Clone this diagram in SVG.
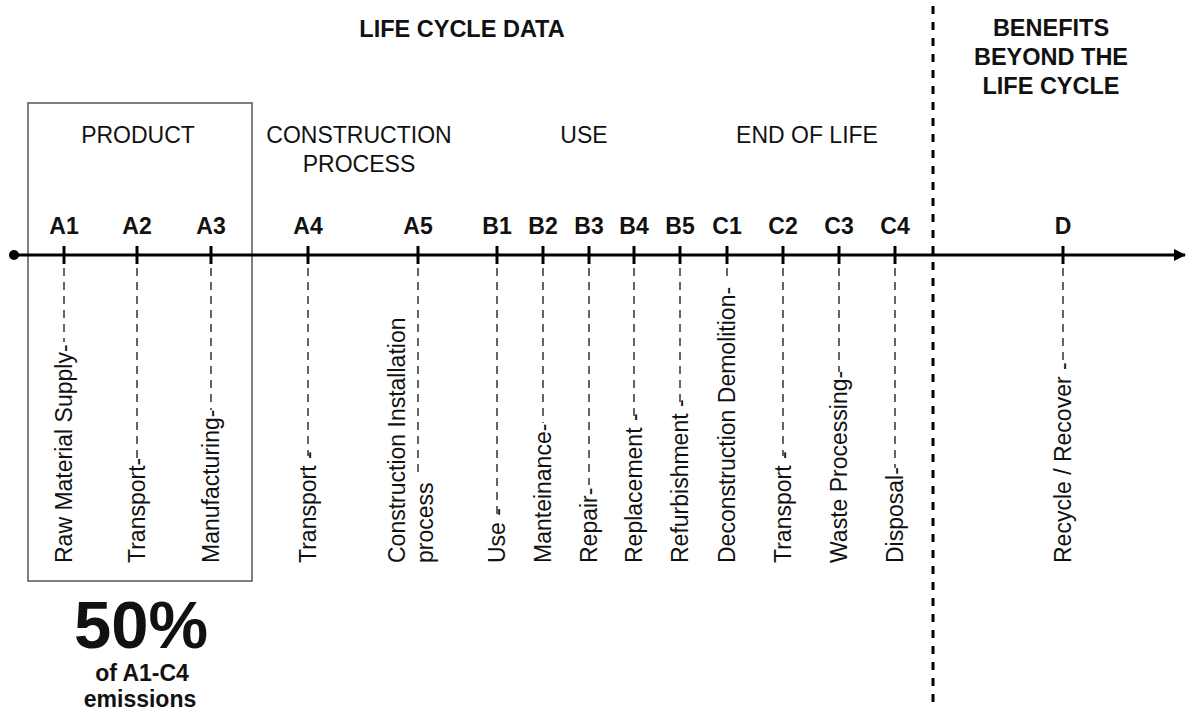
<svg xmlns="http://www.w3.org/2000/svg" width="1187" height="710" viewBox="0 0 1187 710">
<style>
text{font-family:"Liberation Sans",Arial,sans-serif;fill:#111}
.h{font-size:23.5px;font-weight:bold;text-anchor:middle}
.s{font-size:23px;text-anchor:middle}
.t{font-size:23px;font-weight:bold;text-anchor:middle}
.r{font-size:23px;text-anchor:start}
.d{stroke:#333;stroke-width:1.5;stroke-dasharray:8 6;fill:none}
.k{stroke:#000;stroke-width:3}
</style>
<defs>
<marker id="arr" markerWidth="12" markerHeight="12" refX="11" refY="6" orient="auto" markerUnits="userSpaceOnUse">
<path d="M0,0 L12,6 L0,12 Z" fill="#000"/>
</marker>
</defs>
<rect width="1187" height="710" fill="#fff"/>
<g id="headers">
<text class="h" x="462" y="37">LIFE CYCLE DATA</text>
<text class="h" x="1051" y="36">BENEFITS</text>
<text class="h" x="1051" y="65">BEYOND THE</text>
<text class="h" x="1051" y="94">LIFE CYCLE</text>
<text class="s" x="138" y="143">PRODUCT</text>
<text class="s" x="359" y="143">CONSTRUCTION</text>
<text class="s" x="359" y="172">PROCESS</text>
<text class="s" x="584" y="143">USE</text>
<text class="s" x="807" y="143">END OF LIFE</text>
</g>
<g id="product-box">
<rect x="28" y="103" width="224" height="478" fill="none" stroke="#555" stroke-width="1.5"/>
</g>
<g id="separator">
<line x1="933" y1="6" x2="933" y2="710" stroke="#000" stroke-width="3" stroke-dasharray="8 8"/>
</g>
<g id="connectors">
<line x1="14" y1="255" x2="1185" y2="255" class="k" marker-end="url(#arr)"/>
<circle cx="14" cy="255" r="5" fill="#000"/>
<g class="k">
<line x1="64" y1="246" x2="64" y2="264"/>
<line x1="137" y1="246" x2="137" y2="264"/>
<line x1="211" y1="246" x2="211" y2="264"/>
<line x1="308" y1="246" x2="308" y2="264"/>
<line x1="418" y1="246" x2="418" y2="264"/>
<line x1="497" y1="246" x2="497" y2="264"/>
<line x1="543" y1="246" x2="543" y2="264"/>
<line x1="589" y1="246" x2="589" y2="264"/>
<line x1="634" y1="246" x2="634" y2="264"/>
<line x1="680" y1="246" x2="680" y2="264"/>
<line x1="727" y1="246" x2="727" y2="264"/>
<line x1="783" y1="246" x2="783" y2="264"/>
<line x1="839" y1="246" x2="839" y2="264"/>
<line x1="895" y1="246" x2="895" y2="264"/>
<line x1="1063" y1="246" x2="1063" y2="264"/>
</g>
<g class="d">
<line x1="64" y1="268" x2="64" y2="342"/>
<line x1="137" y1="268" x2="137" y2="458"/>
<line x1="211" y1="268" x2="211" y2="410"/>
<line x1="308" y1="268" x2="308" y2="456"/>
<line x1="418" y1="268" x2="418" y2="476"/>
<line x1="497" y1="268" x2="497" y2="515"/>
<line x1="543" y1="268" x2="543" y2="423"/>
<line x1="589" y1="268" x2="589" y2="485"/>
<line x1="634" y1="268" x2="634" y2="418"/>
<line x1="680" y1="268" x2="680" y2="403"/>
<line x1="727" y1="268" x2="727" y2="281"/>
<line x1="783" y1="268" x2="783" y2="456"/>
<line x1="839" y1="268" x2="839" y2="372"/>
<line x1="895" y1="268" x2="895" y2="468"/>
<line x1="1063" y1="268" x2="1063" y2="365"/>
</g>
</g>
<g id="A1"><text class="t" x="64" y="234">A1</text><text class="r" transform="translate(72,563) rotate(-90)">Raw Material Supply-</text></g>
<g id="A2"><text class="t" x="137" y="234">A2</text><text class="r" transform="translate(145,563) rotate(-90)">Transport-</text></g>
<g id="A3"><text class="t" x="211" y="234">A3</text><text class="r" transform="translate(219,563) rotate(-90)">Manufacturing-</text></g>
<g id="A4"><text class="t" x="308" y="234">A4</text><text class="r" transform="translate(316,563) rotate(-90)">Transport -</text></g>
<g id="A5"><text class="t" x="418" y="234">A5</text><text class="r" transform="translate(405,563) rotate(-90)">Construction Installation</text><text class="r" transform="translate(433,563) rotate(-90)">process</text></g>
<g id="B1"><text class="t" x="497" y="234">B1</text><text class="r" transform="translate(505,563) rotate(-90)">Use -</text></g>
<g id="B2"><text class="t" x="543" y="234">B2</text><text class="r" transform="translate(551,563) rotate(-90)">Manteinance-</text></g>
<g id="B3"><text class="t" x="589" y="234">B3</text><text class="r" transform="translate(597,563) rotate(-90)">Repair-</text></g>
<g id="B4"><text class="t" x="634" y="234">B4</text><text class="r" transform="translate(642,563) rotate(-90)">Replacement -</text></g>
<g id="B5"><text class="t" x="680" y="234">B5</text><text class="r" transform="translate(688,563) rotate(-90)">Refurbishment -</text></g>
<g id="C1"><text class="t" x="727" y="234">C1</text><text class="r" transform="translate(735,563) rotate(-90)">Deconstruction Demolition-</text></g>
<g id="C2"><text class="t" x="783" y="234">C2</text><text class="r" transform="translate(791,563) rotate(-90)">Transport -</text></g>
<g id="C3"><text class="t" x="839" y="234">C3</text><text class="r" transform="translate(847,563) rotate(-90)">Waste Processing-</text></g>
<g id="C4"><text class="t" x="895" y="234">C4</text><text class="r" transform="translate(903,563) rotate(-90)">Disposal-</text></g>
<g id="D"><text class="t" x="1063" y="234">D</text><text class="r" transform="translate(1071,563) rotate(-90)">Recycle / Recover -</text></g>
<g id="stat">
<text x="141" y="648" style="font-size:67px;font-weight:bold;text-anchor:middle">50%</text>
<text x="142" y="681" class="h" style="font-size:23px">of A1-C4</text>
<text x="140" y="707" class="h" style="font-size:23px">emissions</text>
</g>
</svg>
